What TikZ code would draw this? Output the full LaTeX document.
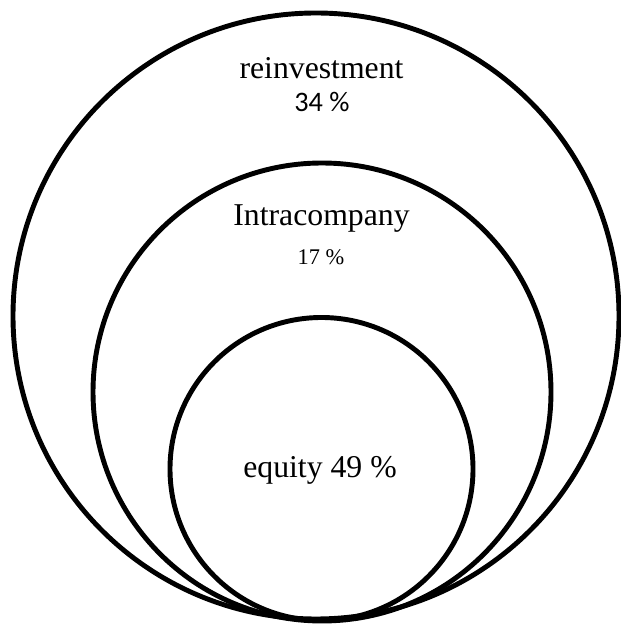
\documentclass[tikz,border=0pt]{standalone}
\usepackage{fontspec}
\setmainfont{Liberation Serif}
\newfontfamily\calibrifont{Carlito}
\begin{document}
\begin{tikzpicture}[ring/.style={draw, line width=2.8pt},
  big/.style={anchor=base, inner sep=0pt, font=\fontsize{18bp}{21bp}\selectfont},
  pct/.style={anchor=base, inner sep=0pt, font=\calibrifont\fontsize{16bp}{19bp}\selectfont},
  small/.style={anchor=base, inner sep=0pt, font=\fontsize{12.7bp}{15bp}\selectfont}]
  \useasboundingbox (0,0) rectangle (12.42,12.5);
  \draw [ring] (6.32,6.18) circle (6.06);
  \draw [ring] (6.44,4.66) circle (4.58);
  \draw [ring] (6.43,3.12) circle (3.03);
  \node [big] (reinv) at (6.43,10.92) {reinvestment};
  \node [pct] (reinvpct) at (6.44,10.27) {34 \%};
  \node [big] (intra) at (6.43,7.99) {Intracompany};
  \node [small] (intrapct) at (6.42,7.21) {17 \%};
  \node [big] (equity) at (6.40,2.94) {equity 49 \%};
\end{tikzpicture}
\end{document}
